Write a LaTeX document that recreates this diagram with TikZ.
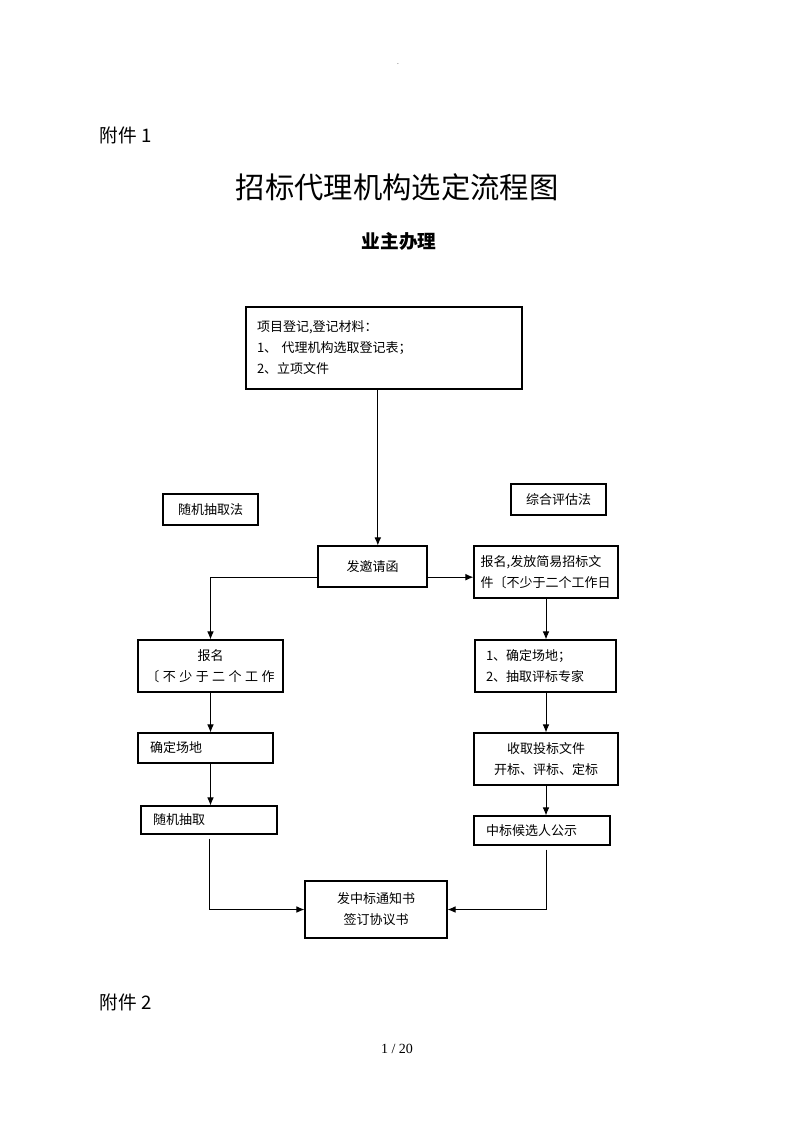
\documentclass[tikz,border=0pt]{standalone}
\usepackage{fontspec}
\setmainfont{Noto Sans CJK SC}
\newfontfamily\pagefont{Liberation Serif}
\usetikzlibrary{
  arrows.meta
}
\newcommand{\gapc}{\hspace{2.6pt}}

\begin{document}
\begin{tikzpicture}[
  x=0.75pt, y=-0.75pt,
  box/.style = {shape=rectangle, draw, line width=0.8pt,
    inner xsep=8pt, font=\fontsize{9.75}{15.75}\selectfont},
  go/.style = {draw, line width=0.75pt, -{Latex[length=6pt,width=5pt]}}]
  \useasboundingbox (0,0) rectangle (793,1122);
  \node[font=\tiny] (dot) at (398,64) {.};
  \node[anchor=west, font=\fontsize{14}{16}\selectfont] (att1) at (95,135) {附件 1};
  \node[font=\fontsize{22}{26}\selectfont] (title) at (397,187) {招标代理机构选定流程图};
  \node[font=\fontsize{14}{16}\selectfont\bfseries] (owner) at (399,241) {业主办理};
  \node[box, minimum width=207pt, minimum height=61.5pt, inner xsep=8.25pt,
    text width=190.5pt, align=left] (reg) at (384,348)
    {项目登记,登记材料：\\1、 代理机构选取登记表；\\2、立项文件};
  \node[box, minimum width=71.25pt, minimum height=23.25pt] (rand) at (210.5,509.5) {随机抽取法};
  \node[box, minimum width=71.25pt, minimum height=23.25pt] (comp) at (558.5,499.5) {综合评估法};
  \node[box, minimum width=81.75pt, minimum height=30.75pt] (invite) at (372.5,566.5) {发邀请函};
  \node[box, minimum width=108pt, minimum height=39pt, inner xsep=5pt,
    text width=98pt, align=left] (pub) at (546,572)
    {报名,发放简易招标文\\件〔不少于二个工作日};
  \node[box, minimum width=108.75pt, minimum height=39pt, inner xsep=4pt,
    align=center] (sign) at (210.5,666)
    {报名\\〔\gapc 不\gapc 少\gapc 于\gapc 二\gapc 个\gapc 工\gapc 作};
  \node[box, minimum width=101.25pt, minimum height=22.5pt, inner xsep=9pt,
    text width=83.25pt, align=left] (site) at (205.5,748) {确定场地};
  \node[box, minimum width=102pt, minimum height=21pt, inner xsep=9pt,
    text width=84pt, align=left] (draw) at (209,820) {随机抽取};
  \node[box, minimum width=105.75pt, minimum height=39pt, inner xsep=8.25pt,
    text width=89.25pt, align=left] (prep) at (545.5,666)
    {1、确定场地；\\2、抽取评标专家};
  \node[box, minimum width=108pt, minimum height=39pt, align=center] (open) at (546,759)
    {收取投标文件\\开标、评标、定标};
  \node[box, minimum width=102pt, minimum height=21.75pt, inner xsep=9pt,
    text width=84pt, align=left] (cand) at (542,830.5) {中标候选人公示};
  \node[box, minimum width=106.5pt, minimum height=42.75pt, align=center] (notice) at (376,909.5)
    {发中标通知书\\签订协议书};
  \node[anchor=west, font=\fontsize{14}{16}\selectfont] (att2) at (95,1002) {附件 2};
  \node[font=\pagefont\fontsize{10.5}{12}\selectfont] (page) at (397,1049) {1 / 20};

  \draw[go] ([xshift=4pt]invite.north |- reg.south) -- ([xshift=4pt]invite.north);
  \draw[go] ([yshift=-8pt]invite.east) -- ([yshift=-8pt]invite.east -| pub.west);
  \draw[go] ([yshift=-8pt]invite.west) -| (sign.north);
  \draw[go] (sign.south) -- (sign.south |- site.north);
  \draw[go] (sign.south |- site.south) -- (sign.south |- draw.north);
  \draw[go] ([yshift=-3pt]draw.south) |- (notice.west);
  \draw[go] (pub.south) -- (pub.south |- prep.north);
  \draw[go] (pub.south |- prep.south) -- (pub.south |- open.north);
  \draw[go] (pub.south |- open.south) -- (pub.south |- cand.north);
  \draw[go] ([yshift=-3pt]pub.south |- cand.south) |- (notice.east);
\end{tikzpicture}
\end{document}
